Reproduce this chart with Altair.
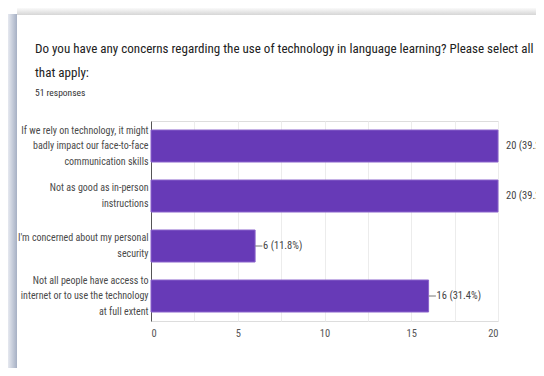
import altair as alt
import pandas as pd

categories = [
    "If we rely on technology, it might|badly impact our face-to-face|communication skills",
    "Not as good as in-person|instructions",
    "I'm concerned about my personal|security",
    "Not all people have access to|internet or to use the technology|at full extent",
]
counts = [20, 20, 6, 16]
percents = ["39.2%", "39.2%", "11.8%", "31.4%"]
x_ticks = [0, 2.5, 5, 7.5, 10, 12.5, 15, 17.5, 20]

title_lines = [
    "Do you have any concerns regarding the use of technology in language learning? Please select all",
    "that apply:",
]
subtitle = "51 responses"

df = pd.DataFrame({
    "cat": categories,
    "count": counts,
    "label": [f"{c} ({p})" for c, p in zip(counts, percents)],
})

FONT = "Roboto Condensed, Liberation Sans Narrow, DejaVu Sans Condensed, Roboto, sans-serif"

W, H = 347, 200
PL, PT, PR, PB = 143, 113, 38, 47

y_enc = alt.Y("cat:N", sort=categories, title=None,
              scale=alt.Scale(paddingInner=0.36, paddingOuter=0.18),
              axis=alt.Axis(labelExpr="split(datum.label, '|')", labelLimit=300,
                            labelFontSize=10, labelLineHeight=15.5, labelColor="#4a4a4a",
                            labelFont=FONT, labelPadding=3, ticks=False,
                            labelOffset={"condition": {"test": "length(split(datum.value, '|')) == 3",
                                                       "value": -15.5},
                                         "value": -7.75},
                            domain=True, domainColor="#555", grid=False))
x_scale = alt.Scale(domain=[0, 20], nice=False)

base = alt.Chart(df)

# card shadow (decoration)
one = alt.Chart(pd.DataFrame({"a": [0]}))
left_shadow = one.mark_rect(color=alt.Gradient(
    gradient="linear", x1=0, x2=1, y1=0, y2=0,
    stops=[alt.GradientStop(offset=0, color="#e6e9f0"),
           alt.GradientStop(offset=1, color="#a6b0c4")])).encode(
    x=alt.value(-PL), x2=alt.value(-PL + 9), y=alt.value(-PT + 6), y2=alt.value(H + PB))
top_shadow = one.mark_rect(color=alt.Gradient(
    gradient="linear", x1=0, x2=0, y1=0, y2=1,
    stops=[alt.GradientStop(offset=0, color="#fafafa"),
           alt.GradientStop(offset=1, color="#d6d6d6")])).encode(
    x=alt.value(-PL + 9), x2=alt.value(W + PR), y=alt.value(-PT), y2=alt.value(-PT + 7))

TFS = 13.05
title1 = one.mark_text(align="left", baseline="alphabetic", fontSize=TFS, color="#212121",
                       font=FONT).encode(
    x=alt.value(-116), y=alt.value(-68), text=alt.value(title_lines[0]))
title2 = one.mark_text(align="left", baseline="alphabetic", fontSize=TFS, color="#212121",
                       font=FONT).encode(
    x=alt.value(-116), y=alt.value(-44), text=alt.value(title_lines[1]))
sub = one.mark_text(align="left", baseline="alphabetic", fontSize=9.5, color="#333",
                    font=FONT).encode(
    x=alt.value(-116), y=alt.value(-25), text=alt.value(subtitle))

bars = base.mark_bar(color="#673ab7", stroke="#8a63cc", strokeWidth=1).encode(
    x=alt.X("count:Q", scale=x_scale, title=None,
            axis=alt.Axis(values=x_ticks, labelExpr="datum.value % 5 == 0 ? datum.label : ''",
                          grid=True, gridColor="#ececec", domain=False, ticks=False,
                          labelFontSize=10.5, labelColor="#555", labelFont=FONT,
                          labelPadding=7)),
    y=y_enc,
)

leaders = base.transform_filter("datum.count < 20").transform_calculate(
    end="datum.count + 0.42").mark_rule(color="#777", strokeWidth=1).encode(
    x=alt.X("count:Q", scale=x_scale), x2="end:Q", y=alt.Y("cat:N", sort=categories))

texts = base.mark_text(align="left", baseline="middle", dx=8, fontSize=10.5,
                       color="#444", font=FONT).encode(
    x=alt.X("count:Q", scale=x_scale), y=alt.Y("cat:N", sort=categories), text="label:N")

chart = alt.layer(left_shadow, top_shadow, title1, title2, sub, bars, leaders, texts).properties(
    width=W, height=H,
    autosize=alt.AutoSizeParams(type="none"),
    padding={"left": PL, "top": PT, "right": PR, "bottom": PB},
).configure_view(stroke=None).configure(background="white")

chart.save("out.html", embed_options={"renderer": "svg", "actions": False})
